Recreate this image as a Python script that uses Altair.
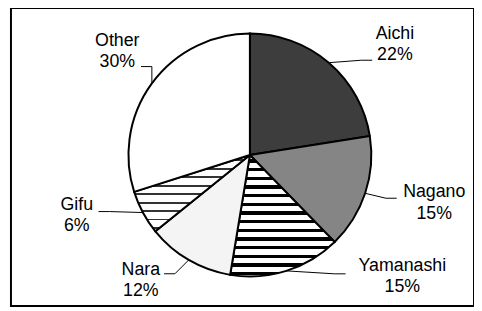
import altair as alt
import pandas as pd

# ---- data ----
categories = ["Aichi", "Nagano", "Yamanashi", "Nara", "Gifu", "Other"]
values = [22.5, 15.2, 14.9, 11.6, 5.9, 29.9]
pct_labels = ["22%", "15%", "15%", "12%", "6%", "30%"]

# ---- label layout (pixel offsets from each slice's edge anchor) ----
label_dx = [67, 70, 117.5, -48.5, -67, -35]
label_dy = [-18, 10, 6, 21, 3, -32]
lead_dx = [44, 32, 60, -25, -45, -11]
lead_dy = [-2.5, 5, 3, 14, -1, -17]

CX, CY, R = 242, 149, 123
LINE_GAP = 10.75


def stripes(n, t, line, bg):
    stops = [{"offset": 0, "color": bg}]
    for k in range(n):
        a = (k + 0.5) / n
        stops += [
            {"offset": a, "color": bg},
            {"offset": a, "color": line},
            {"offset": min(a + t, 1), "color": line},
            {"offset": min(a + t, 1), "color": bg},
        ]
    stops.append({"offset": 1, "color": bg})
    return {"gradient": "linear", "x1": 0, "y1": 0, "x2": 0, "y2": 1, "stops": stops}


fills = {
    "Aichi": "#3d3d3d",
    "Nagano": "#858585",
    "Yamanashi": stripes(14, 0.026, "#000000", "#ffffff"),
    "Nara": "#f4f4f4",
    "Gifu": stripes(9, 0.025, "#333333", "#ffffff"),
    "Other": "#ffffff",
}

df = pd.DataFrame({
    "order": list(range(len(categories))),
    "category": categories,
    "value": values,
    "pct": pct_labels,
    "label_dx": label_dx,
    "label_dy": label_dy,
    "lead_dx": lead_dx,
    "lead_dy": lead_dy,
})

base = (
    alt.Chart(df)
    .transform_joinaggregate(total="sum(value)")
    .transform_window(cum="sum(value)", sort=[alt.SortField("order")], frame=[None, 0])
    .transform_calculate(
        start="(datum.cum - datum.value) / datum.total",
        end="datum.cum / datum.total",
    )
    .transform_calculate(mid="(datum.start + datum.end) * PI")
    .transform_calculate(
        ax=f"{CX} + {R} * sin(datum.mid)",
        ay=f"{CY} - {R} * cos(datum.mid)",
    )
    .transform_calculate(
        ex="datum.ax + datum.lead_dx",
        ey="datum.ay + datum.lead_dy",
        tx="datum.ax + datum.label_dx",
        ty1=f"datum.ay + datum.label_dy - {LINE_GAP}",
        ty2=f"datum.ay + datum.label_dy + {LINE_GAP}",
    )
    .transform_calculate(bx="datum.ex - (datum.lead_dx > 0 ? 11 : -11)")
)

theta_scale = alt.Scale(domain=[0, 1], range=[0, 6.283185307179586])

arcs = []
for c in categories:
    arcs.append(
        base.transform_filter(alt.datum.category == c)
        .mark_arc(radius=R, fill=fills[c], stroke="black", strokeWidth=2)
        .encode(
            theta=alt.Theta("start:Q", scale=theta_scale),
            theta2="end:Q",
            x=alt.value(CX),
            y=alt.value(CY),
        )
    )

seg1 = base.mark_rule(color="black", strokeWidth=1).encode(
    x=alt.X("ax:Q", scale=None, axis=None),
    y=alt.Y("ay:Q", scale=None, axis=None),
    x2="bx:Q",
    y2="ey:Q",
)
seg2 = base.mark_rule(color="black", strokeWidth=1).encode(
    x=alt.X("bx:Q", scale=None, axis=None),
    y=alt.Y("ey:Q", scale=None, axis=None),
    x2="ex:Q",
    y2="ey:Q",
)

txt = dict(font="Liberation Sans", fontSize=18, align="center", baseline="middle", color="black")
names = base.mark_text(**txt).encode(
    x=alt.X("tx:Q", scale=None, axis=None),
    y=alt.Y("ty1:Q", scale=None, axis=None),
    text="category:N",
)
pcts = base.mark_text(**txt).encode(
    x=alt.X("tx:Q", scale=None, axis=None),
    y=alt.Y("ty2:Q", scale=None, axis=None),
    text="pct:N",
)

chart = (
    alt.layer(*arcs, seg1, seg2, names, pcts)
    .properties(
        width=469,
        height=302,
        autosize="none",
        padding={"left": 3, "top": -2, "right": 0, "bottom": 0},
        background="white",
    )
    .configure_view(stroke="black", strokeWidth=2)
)

chart.save("out.html", embed_options={"renderer": "svg", "actions": False})
